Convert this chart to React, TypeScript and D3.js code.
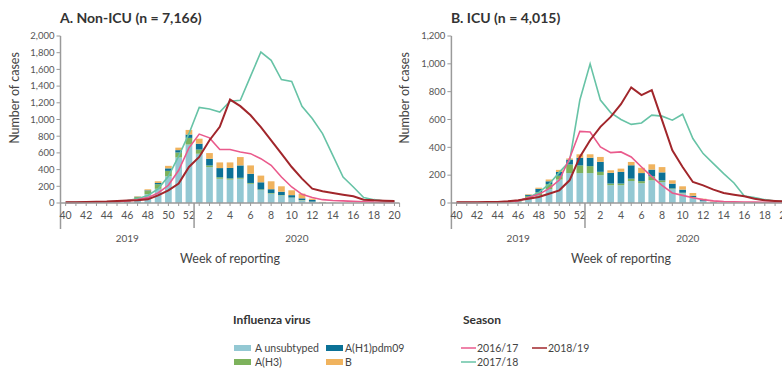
import React from 'react';
import * as d3 from 'd3';

// weeks 40-52 of 2019, then 1-20 of 2020
const weeks = [40, 41, 42, 43, 44, 45, 46, 47, 48, 49, 50, 51, 52,
  1, 2, 3, 4, 5, 6, 7, 8, 9, 10, 11, 12, 13, 14, 15, 16, 17, 18, 19, 20];

// A. Non-ICU - bars by virus type
const unsubNonIcu = [0, 0, 0, 2, 3, 5, 15, 45, 105, 170, 320, 545, 700,
  590, 430, 290, 280, 290, 230, 155, 112, 90, 62, 32, 15, 5, 2, 0, 0, 0, 0, 0, 0];
const h1NonIcu = [0, 0, 0, 0, 1, 1, 3, 5, 8, 15, 30, 28, 40,
  70, 80, 110, 125, 148, 110, 85, 45, 40, 28, 20, 20, 3, 0, 0, 0, 0, 0, 0, 0];
const h3NonIcu = [0, 0, 0, 0, 1, 2, 5, 25, 38, 55, 65, 60, 80,
  50, 20, 18, 15, 12, 10, 8, 8, 5, 4, 4, 2, 0, 0, 0, 0, 0, 0, 0, 0];
const bNonIcu = [0, 0, 0, 0, 0, 1, 2, 5, 13, 20, 30, 30, 55,
  60, 68, 68, 66, 100, 100, 80, 95, 65, 58, 56, 15, 5, 2, 0, 0, 0, 0, 0, 0];

// A. Non-ICU - previous seasons
const s1617NonIcu = [5, 6, 8, 10, 12, 15, 25, 40, 64, 120, 212, 392, 660,
  825, 780, 640, 640, 611, 591, 531, 451, 311, 192, 104, 65, 40, 30, 25, 20, 15, 10, 8, 8];
const s1718NonIcu = [8, 8, 10, 12, 15, 20, 30, 50, 90, 170, 320, 560, 830,
  1145, 1125, 1090, 1218, 1230, 1520, 1808, 1709, 1478, 1457, 1158, 1011, 831, 571, 311, 192, 65, 40, 24, 20];
const s1819NonIcu = [10, 10, 12, 15, 18, 25, 30, 32, 44, 92, 152, 232, 432,
  552, 752, 912, 1238, 1160, 1050, 910, 751, 591, 431, 292, 172, 140, 120, 100, 80, 40, 32, 28, 24];

// B. ICU - bars by virus type
const unsubIcu = [0, 0, 0, 1, 2, 3, 8, 32, 55, 100, 168, 215, 215,
  215, 200, 128, 128, 158, 142, 163, 150, 100, 70, 40, 15, 5, 2, 0, 0, 0, 0, 0, 0];
const h1Icu = [0, 0, 0, 0, 0, 1, 2, 8, 24, 20, 27, 35, 55,
  60, 72, 77, 84, 96, 58, 48, 58, 34, 22, 10, 6, 2, 0, 0, 0, 0, 0, 0, 0];
const h3Icu = [0, 0, 0, 0, 1, 1, 3, 19, 23, 36, 28, 62, 55,
  50, 24, 12, 12, 17, 15, 29, 12, 5, 4, 2, 0, 0, 0, 0, 0, 0, 0, 0, 0];
const bIcu = [0, 0, 0, 0, 0, 0, 1, 4, 8, 13, 15, 8, 25,
  25, 35, 18, 23, 24, 38, 38, 38, 24, 24, 20, 10, 3, 0, 0, 0, 0, 0, 0, 0];

// B. ICU - previous seasons
const s1617Icu = [3, 3, 4, 5, 6, 8, 15, 40, 62, 103, 165, 320, 515,
  510, 403, 362, 367, 331, 259, 190, 127, 72, 55, 38, 24, 15, 10, 8, 7, 6, 5, 5, 5];
const s1718Icu = [3, 3, 4, 5, 8, 10, 15, 40, 75, 135, 220, 300, 740,
  1000, 740, 650, 600, 565, 575, 631, 624, 595, 638, 463, 355, 283, 211, 144, 50, 40, 24, 14, 10];
const s1819Icu = [5, 5, 6, 7, 8, 12, 20, 31, 43, 67, 91, 163, 331,
  451, 547, 619, 710, 831, 775, 811, 595, 379, 259, 151, 127, 96, 72, 60, 48, 31, 19, 15, 12];

const virusKeys = ['unsub', 'h3', 'h1', 'b'];
const virusLabels: Record<string, string> = { unsub: 'A unsubtyped', h1: 'A(H1)pdm09', h3: 'A(H3)', b: 'B' };
const virusColors: Record<string, string> = { unsub: '#93c8d3', h1: '#0b7196', h3: '#7db25c', b: '#f0b35e' };
const seasonColors: Record<string, string> = { s1617: '#ea5a8c', s1718: '#67c3a6', s1819: '#a1262b' };

const FONT = 'Lato, "Open Sans", sans-serif';
const AXIS = '#9a9a9a';

interface PanelProps {
  title: string;
  x0: number;
  x1: number;
  yMax: number;
  unsub: number[];
  h1: number[];
  h3: number[];
  b: number[];
  s1617: number[];
  s1718: number[];
  s1819: number[];
}

function Panel(p: PanelProps) {
  const top = 36, bottom = 203;
  const x = d3.scalePoint<number>().domain(d3.range(weeks.length)).range([p.x0, p.x1]).padding(0.5);
  const y = d3.scaleLinear().domain([0, p.yMax]).range([bottom, top]);
  const step = x.step();
  const bw = 6.7;

  const rows = weeks.map((w, i) => ({ i, unsub: p.unsub[i], h1: p.h1[i], h3: p.h3[i], b: p.b[i] }));
  const stack = d3.stack<any>().keys(virusKeys)(rows);

  const line = d3.line<number>().x((_, i) => x(i)!).y(d => y(d));
  const yTicks = d3.range(0, p.yMax + 1, 200);
  const split = x(12)! + step / 2;
  const fmt = d3.format(',');

  return (
    <g>
      <text x={p.x0 - 0.5} y={23} fontFamily={FONT} fontWeight={700} fontSize={14} fill="#333">{p.title}</text>
      <text transform={`translate(${p.x0 - 42},98) rotate(-90)`} textAnchor="middle" fontFamily={FONT} fontSize={12.5} fill="#444">Number of cases</text>

      {stack.map(layer => (
        <g key={layer.key} fill={virusColors[layer.key]}>
          {layer.map((d, i) => d[1] - d[0] > 0 ? (
            <rect key={i} x={x(i)! - bw / 2} y={y(d[1])} width={bw} height={y(d[0]) - y(d[1])} />
          ) : null)}
        </g>
      ))}

      <path d={line(p.s1718)!} fill="none" stroke={seasonColors.s1718} strokeWidth={1.6} />
      <path d={line(p.s1617)!} fill="none" stroke={seasonColors.s1617} strokeWidth={1.6} />
      <path d={line(p.s1819)!} fill="none" stroke={seasonColors.s1819} strokeWidth={2} />

      {/* y axis */}
      <line x1={p.x0} x2={p.x0} y1={top} y2={229} stroke={AXIS} strokeWidth={1.5} />
      {yTicks.map(t => (
        <g key={t}>
          <line x1={p.x0 - 4} x2={p.x0} y1={y(t)} y2={y(t)} stroke={AXIS} strokeWidth={1} />
          <text x={p.x0 - 6} y={y(t)} dy="0.35em" textAnchor="end" fontFamily={FONT} fontSize={9.5} fill="#555">{fmt(t)}</text>
        </g>
      ))}

      {/* x axis */}
      <line x1={p.x0} x2={p.x1} y1={bottom} y2={bottom} stroke={AXIS} strokeWidth={1.5} />
      <line x1={p.x1} x2={p.x1} y1={bottom} y2={bottom + 4} stroke={AXIS} strokeWidth={1} />
      {weeks.map((w, i) => (
        <g key={i}>
          <line x1={x(i)} x2={x(i)} y1={bottom} y2={bottom + 3} stroke={AXIS} strokeWidth={1} />
          {w % 2 === 0 ? (
            <text x={x(i)} y={215} dy="0.35em" textAnchor="middle" fontFamily={FONT} fontSize={10.5} fill="#555">{w}</text>
          ) : null}
        </g>
      ))}
      <line x1={split} x2={split} y1={bottom} y2={228} stroke={AXIS} strokeWidth={1.5} />
      <text x={(p.x0 + split) / 2} y={238} dy="0.35em" textAnchor="middle" fontFamily={FONT} fontSize={10} fill="#555">2019</text>
      <text x={(split + p.x1) / 2} y={238} dy="0.35em" textAnchor="middle" fontFamily={FONT} fontSize={10} fill="#555">2020</text>
      <text x={(p.x0 + p.x1) / 2} y={259} dy="0.35em" textAnchor="middle" fontFamily={FONT} fontSize={12.5} fill="#444">Week of reporting</text>
    </g>
  );
}

export default function App() {
  const legendVirus = [
    { key: 'unsub', x: 234, y: 348 },
    { key: 'h1', x: 326, y: 348 },
    { key: 'h3', x: 234, y: 362 },
    { key: 'b', x: 326, y: 362 },
  ];
  const legendSeason = [
    { key: 's1617', label: '2016/17', x: 461, y: 348 },
    { key: 's1819', label: '2018/19', x: 532, y: 348 },
    { key: 's1718', label: '2017/18', x: 461, y: 362 },
  ];
  return (
    <svg width={782} height={369} style={{ position: 'absolute', left: 0, top: 0, background: '#fff' }}>
      <Panel title="A. Non-ICU (n = 7,166)" x0={60.5} x1={399.6} yMax={2000}
        unsub={unsubNonIcu} h1={h1NonIcu} h3={h3NonIcu} b={bNonIcu}
        s1617={s1617NonIcu} s1718={s1718NonIcu} s1819={s1819NonIcu} />
      <Panel title="B. ICU  (n = 4,015)" x0={451.4} x1={790.5} yMax={1200}
        unsub={unsubIcu} h1={h1Icu} h3={h3Icu} b={bIcu}
        s1617={s1617Icu} s1718={s1718Icu} s1819={s1819Icu} />

      <text x={233} y={320} dy="0.35em" fontFamily={FONT} fontWeight={700} fontSize={12} fill="#333">Influenza virus</text>
      {legendVirus.map(d => (
        <g key={d.key}>
          <rect x={d.x} y={d.y - 3} width={17} height={6} fill={virusColors[d.key]} />
          <text x={d.x + (d.key === 'unsub' || d.key === 'h3' ? 21 : 19)} y={d.y} dy="0.35em" fontFamily={FONT} fontSize={10.5} fill="#444">{virusLabels[d.key]}</text>
        </g>
      ))}
      <text x={463} y={320} dy="0.35em" fontFamily={FONT} fontWeight={700} fontSize={12} fill="#333">Season</text>
      {legendSeason.map(d => (
        <g key={d.key}>
          <line x1={d.x} x2={d.x + 15} y1={d.y} y2={d.y} stroke={seasonColors[d.key]} strokeWidth={1.5} />
          <text x={d.x + 16} y={d.y} dy="0.35em" fontFamily={FONT} fontSize={10.5} fill="#444">{d.label}</text>
        </g>
      ))}
    </svg>
  );
}
